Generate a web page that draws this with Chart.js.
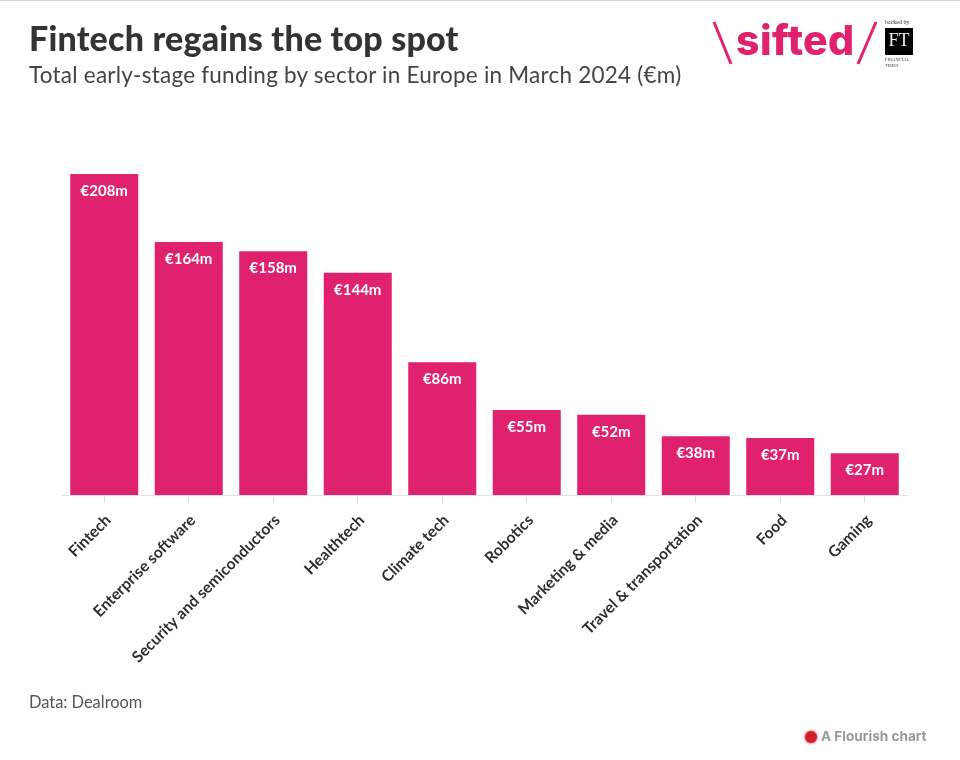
<!DOCTYPE html>
<html>
<head>
<meta charset="utf-8">
<title>Fintech regains the top spot</title>
<script src="https://cdn.jsdelivr.net/npm/chart.js@4"></script>
<style>
  html, body { margin: 0; padding: 0; background: #fff; }
  #page { position: relative; width: 960px; height: 760px; overflow: hidden; font-family: Lato, sans-serif; border-top: 1px solid #d8d8d8; box-sizing: border-box; }
  #page canvas { position: absolute; left: 0; top: -1px; }
  .txt { position: absolute; white-space: nowrap; }
  #titre { left: 29px; top: 17px; font-size: 34px; font-weight: 900; color: #333; line-height: 40px; letter-spacing: 0.2px; }
  #sousTitre { left: 29px; top: 59px; font-size: 22.5px; color: #444; line-height: 30px; letter-spacing: 0.23px; }
  #source { left: 29px; top: 691px; font-size: 16.4px; color: #555; line-height: 20px; }
  #flourish { left: 821px; top: 727px; font-family: Inter, sans-serif; font-size: 13.6px; font-weight: 700; color: #999; line-height: 16px; }
  #flourishPoint { position: absolute; left: 805px; top: 730px; width: 12px; height: 12px; border-radius: 50%; background: #d0202a; box-shadow: 0 0 2px 1px rgba(208,32,42,.45); }
  #sifted { left: 736px; top: 13px; font-family: Inter, sans-serif; font-size: 41px; font-weight: 800; color: #e0226e; letter-spacing: 0.4px; line-height: 52px; }
  #logo { position: absolute; left: 700px; top: 10px; }
  #backed { left: 885px; top: 18px; font-size: 6px; color: #333; line-height: 7px; font-family: "Liberation Serif", serif; }
  #ft { left: 885px; top: 27px; width: 28px; height: 27px; background: #000; color: #eee; font-family: "Liberation Serif", serif; font-size: 18px; line-height: 25px; text-align: center; }
  #ftNom { left: 885px; top: 56px; font-size: 4.5px; line-height: 6px; color: #444; font-family: "Liberation Serif", serif; }
</style>
</head>
<body>
<div id="page">
  <canvas id="chartSecteurs" width="960" height="760"></canvas>
  <div class="txt" id="titre">Fintech regains the top spot</div>
  <div class="txt" id="sousTitre">Total early-stage funding by sector in Europe in March 2024 (€m)</div>
  <div class="txt" id="source">Data: Dealroom</div>
  <svg id="logo" width="190" height="60">
    <line x1="14" y1="11" x2="31" y2="53" stroke="#e0226e" stroke-width="3"/>
    <line x1="176" y1="11" x2="158" y2="53" stroke="#e0226e" stroke-width="3"/>
  </svg>
  <div class="txt" id="sifted">sifted</div>
  <div class="txt" id="backed">backed by</div>
  <div class="txt" id="ft">FT</div>
  <div class="txt" id="ftNom">FINANCIAL<br>TIMES</div>
  <div id="flourishPoint"></div>
  <div class="txt" id="flourish">A Flourish chart</div>
</div>
<script>
const secteurs = ['Fintech', 'Enterprise software', 'Security and semiconductors', 'Healthtech', 'Climate tech',
  'Robotics', 'Marketing & media', 'Travel & transportation', 'Food', 'Gaming'];
const montants = [208, 164, 158, 144, 86, 55, 52, 38, 37, 27];

// étiquettes en blanc dans le haut des barres
const etiquettesBarres = {
  id: 'etiquettesBarres',
  afterDatasetsDraw(chart) {
    const { ctx } = chart;
    ctx.save();
    ctx.fillStyle = '#fff';
    ctx.font = '700 15px Lato, sans-serif';
    ctx.textAlign = 'center';
    ctx.textBaseline = 'middle';
    chart.getDatasetMeta(0).data.forEach((barre, i) => {
      ctx.fillText(`€${montants[i]}m`, barre.x, barre.y + 17);
    });
    ctx.restore();
  }
};

new Chart(document.getElementById('chartSecteurs'), {
  type: 'bar',
  data: {
    labels: secteurs,
    datasets: [{
      data: montants,
      backgroundColor: '#e0226e',
      borderWidth: 0,
      categoryPercentage: 0.805,
      barPercentage: 1
    }]
  },
  options: {
    responsive: false,
    animation: false,
    layout: { padding: { left: 62, right: 53, top: 174, bottom: 0 } },
    plugins: { legend: { display: false }, tooltip: { enabled: false } },
    scales: {
      y: { display: false, min: 0, max: 208 },
      x: {
        afterFit: (axis) => { axis.height = 265; },
        border: { color: '#e2e2e2' },
        grid: { offset: false, drawOnChartArea: false, color: '#dcdcdc', lineWidth: 1, tickLength: 8 },
        ticks: {
          autoSkip: false,
          minRotation: 45,
          maxRotation: 45,
          padding: 8,
          labelOffset: 4,
          color: '#2e2e2e',
          font: { family: 'Lato, sans-serif', size: 15.7, weight: 700 }
        }
      }
    }
  },
  plugins: [etiquettesBarres]
});
</script>
</body>
</html>
